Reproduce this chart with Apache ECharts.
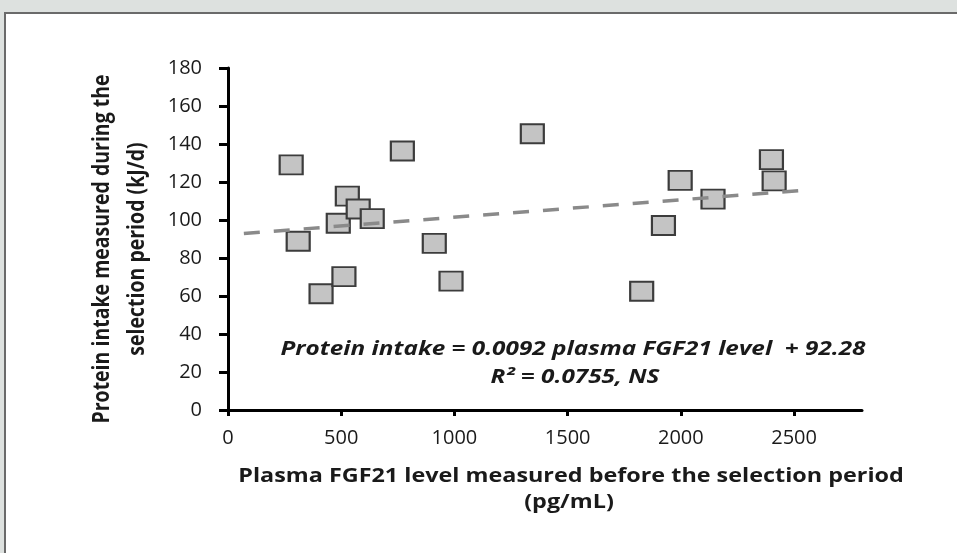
<!DOCTYPE html>
<html>
<head>
<meta charset="utf-8">
<script src="https://cdn.jsdelivr.net/npm/echarts@6/dist/echarts.min.js"></script>
<style>
  html, body { margin: 0; padding: 0; background: #dde1df; }
  #panel { position: absolute; left: 4px; top: 12px; width: 1000px; height: 600px;
           background: #fff; border-top: 2px solid #6a6a6a; border-left: 2px solid #6a6a6a; }
  #main { position: absolute; left: 0; top: 0; width: 957px; height: 553px; }
</style>
</head>
<body>
<div id="panel"></div>
<div id="main"></div>
<script>
// plasma FGF21 (pg/mL) vs protein intake (kJ/d)
var fgf21 = [279, 310, 411, 487, 512, 527, 575, 637, 770, 911, 985, 1344, 1827, 1923, 1997, 2142, 2400, 2412];
var protein = [129, 88.8, 61.2, 98.3, 70.2, 112.6, 105.8, 100.7, 136.3, 87.7, 67.8, 145.4, 62.5, 97.1, 120.9, 111, 131.8, 120.6];
var trendX = [70, 2550];
var trendY = [92.9, 115.7];
var xTicks = [0, 500, 1000, 1500, 2000, 2500];
var yTitle = 'Protein intake measured during the\nselection period (kJ/d)';
var xTitle1 = 'Plasma FGF21 level measured before the selection period';
var xTitle2 = '(pg/mL)';
var eqLine1 = 'Protein intake = 0.0092 plasma FGF21 level  + 92.28';
var eqLine2 = 'R\u00b2 = 0.0755, NS';

var points = fgf21.map(function (x, i) { return [x, protein[i]]; });
var trend = trendX.map(function (x, i) { return [x, trendY[i]]; });

// the source picture is a bit stretched sideways, so the texts get a wider scale
var font = '"Open Sans", Lato, sans-serif';
var ink = '#1a1a1a';
var chart = echarts.init(document.getElementById('main'));

var option = {
  animation: false,
  backgroundColor: 'transparent',
  grid: { left: 228, right: 95, top: 68, bottom: 143, outerBoundsMode: 'none' },
  xAxis: {
    type: 'value',
    min: 0,
    max: 2800,
    interval: 500,
    splitLine: { show: false },
    axisLine: { lineStyle: { color: '#000', width: 3 } },
    axisTick: { length: 6, lineStyle: { color: '#000', width: 3 }, customValues: xTicks },
    axisLabel: {
      customValues: xTicks, margin: 18, fontSize: 20, color: ink, fontFamily: font,
      formatter: function (v) { return String(v); }
    }
  },
  yAxis: {
    type: 'value',
    min: 0,
    max: 180,
    interval: 20,
    splitLine: { show: false },
    axisLine: { show: true, lineStyle: { color: '#000', width: 3 } },
    axisTick: { show: true, length: 9, lineStyle: { color: '#000', width: 3 } },
    axisLabel: { margin: 26, fontSize: 20, color: ink, fontFamily: font }
  },
  graphic: [
    { type: 'text', x: 120, y: 249, rotation: Math.PI / 2, scaleY: 1.2,
      style: { text: yTitle, align: 'center', verticalAlign: 'middle', lineHeight: 29,
               font: 'bold 19.5px ' + font, fill: ink } },
    { type: 'text', x: 571, y: 477, scaleX: 1.23,
      style: { text: xTitle1, align: 'center', verticalAlign: 'middle', font: 'bold 19px ' + font, fill: ink } },
    { type: 'text', x: 569, y: 503, scaleX: 1.23,
      style: { text: xTitle2, align: 'center', verticalAlign: 'middle', font: 'bold 19px ' + font, fill: ink } },
    { type: 'text', x: 573, y: 350, scaleX: 1.28,
      style: { text: eqLine1, align: 'center', verticalAlign: 'middle', font: 'italic bold 19px ' + font, fill: ink } },
    { type: 'text', x: 575, y: 378, scaleX: 1.28,
      style: { text: eqLine2, align: 'center', verticalAlign: 'middle', font: 'italic bold 19px ' + font, fill: ink } }
  ],
  series: [
    {
      type: 'scatter',
      data: points,
      symbol: 'rect',
      symbolSize: [23, 19],
      itemStyle: { color: '#c4c4c4', borderColor: '#3c3c3c', borderWidth: 2, opacity: 1 },
      z: 2
    },
    {
      type: 'line',
      data: trend,
      showSymbol: false,
      lineStyle: { color: '#8a8a8a', width: 3.5, type: [16, 14], cap: 'butt' },
      z: 3
    }
  ]
};
chart.setOption(option);
</script>
</body>
</html>
